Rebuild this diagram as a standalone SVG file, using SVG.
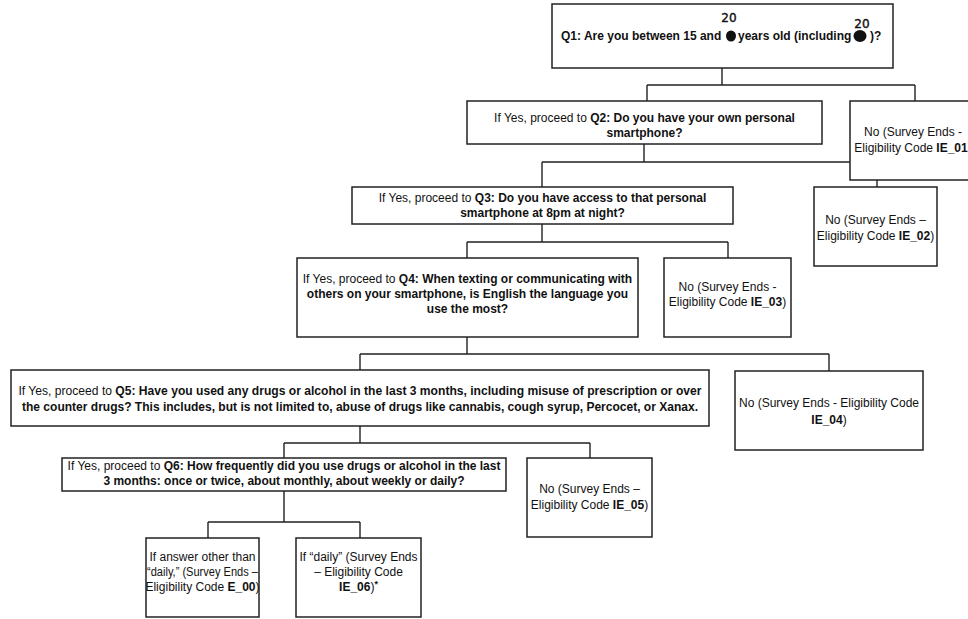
<svg xmlns="http://www.w3.org/2000/svg" width="968" height="619" viewBox="0 0 968 619">
<style>
.box{fill:#fff;stroke:#222;stroke-width:1.5}
.c{fill:none;stroke:#222;stroke-width:1.4}
text{font-family:"Liberation Sans",Arial,sans-serif;font-size:12px;fill:#111;text-anchor:middle}
.b{font-weight:bold}
.s{text-anchor:start}
.hw{font-family:"DejaVu Sans",sans-serif;fill:#111;stroke:#111;stroke-width:0.4;text-anchor:middle}
</style>
<rect width="968" height="619" fill="#fff"/>
<g id="connectors">
<path class="c" d="M722 68V85M647 85H915M647 85V101M915 85V101"/>
<path class="c" d="M644 144V162M542 162H877M542 162V187M877 162V187"/>
<path class="c" d="M542 224V242M467 242H728M467 242V258M728 242V258"/>
<path class="c" d="M467 337V354M360 354H829M360 354V370M829 354V371"/>
<path class="c" d="M360 426V443M284 443H590M284 443V458M590 443V458"/>
<path class="c" d="M284 491V522M208 522H360M208 522V538M360 522V538"/>
</g>
<g id="q1">
<rect class="box" x="552" y="4" width="341" height="64"/>
<text class="b s" x="561" y="40">Q1: Are you between 15 and</text>
<text class="b s" x="738" y="40">years old (including</text>
<text class="b s" x="870" y="40">)?</text>
<ellipse cx="731" cy="36" rx="5" ry="5.5" fill="#111"/>
<ellipse cx="860" cy="36" rx="6.5" ry="6" fill="#111"/>
<text class="hw" x="729" y="22" font-size="18">20</text>
<text class="hw" x="862" y="28" font-size="22">20</text>
</g>
<g id="q2">
<rect class="box" x="467" y="101" width="355" height="43"/>
<text x="644.5" y="122">If Yes, proceed to <tspan class="b">Q2: Do you have your own personal</tspan></text>
<text class="b" x="644.5" y="137">smartphone?</text>
</g>
<g id="ie01">
<rect class="box" x="850" y="101" width="126" height="79"/>
<text x="913" y="136">No (Survey Ends -</text>
<text x="913" y="152">Eligibility Code <tspan class="b">IE_01</tspan>)</text>
</g>
<g id="q3">
<rect class="box" x="352" y="187" width="381" height="37"/>
<text x="542.5" y="202">If Yes, proceed to <tspan class="b">Q3: Do you have access to that personal</tspan></text>
<text class="b" x="542.5" y="217">smartphone at 8pm at night?</text>
</g>
<g id="ie02">
<rect class="box" x="814" y="187" width="123" height="79"/>
<text x="875.5" y="224">No (Survey Ends –</text>
<text x="875.5" y="240">Eligibility Code <tspan class="b">IE_02</tspan>)</text>
</g>
<g id="q4">
<rect class="box" x="297" y="258" width="341" height="79"/>
<text x="467.5" y="283">If Yes, proceed to <tspan class="b">Q4: When texting or communicating with</tspan></text>
<text class="b" x="467.5" y="298">others on your smartphone, is English the language you</text>
<text class="b" x="467.5" y="313">use the most?</text>
</g>
<g id="ie03">
<rect class="box" x="664" y="258" width="127" height="79"/>
<text x="727.5" y="291">No (Survey Ends -</text>
<text x="727.5" y="306">Eligibility Code <tspan class="b">IE_03</tspan>)</text>
</g>
<g id="q5">
<rect class="box" x="11" y="370" width="698" height="56"/>
<text x="360" y="395" textLength="683" lengthAdjust="spacingAndGlyphs">If Yes, proceed to <tspan class="b">Q5: Have you used any drugs or alcohol in the last 3 months, including misuse of prescription or over</tspan></text>
<text class="b" x="360" y="411" textLength="676" lengthAdjust="spacingAndGlyphs">the counter drugs? This includes, but is not limited to, abuse of drugs like cannabis, cough syrup, Percocet, or Xanax.</text>
</g>
<g id="ie04">
<rect class="box" x="735" y="371" width="188" height="79"/>
<text x="829" y="407" textLength="180" lengthAdjust="spacingAndGlyphs">No (Survey Ends - Eligibility Code</text>
<text x="829" y="424"><tspan class="b">IE_04</tspan>)</text>
</g>
<g id="q6">
<rect class="box" x="62" y="458" width="444" height="33"/>
<text x="284" y="470">If Yes, proceed to <tspan class="b">Q6: How frequently did you use drugs or alcohol in the last</tspan></text>
<text class="b" x="284" y="485">3 months: once or twice, about monthly, about weekly or daily?</text>
</g>
<g id="ie05">
<rect class="box" x="527" y="458" width="125" height="79"/>
<text x="589.5" y="493">No (Survey Ends –</text>
<text x="589.5" y="509">Eligibility Code <tspan class="b">IE_05</tspan>)</text>
</g>
<g id="e00">
<rect class="box" x="146" y="538" width="113" height="79"/>
<text x="202.5" y="561">If answer other than</text>
<text x="202.5" y="576" textLength="111" lengthAdjust="spacingAndGlyphs">“daily,” (Survey Ends –</text>
<text x="202.5" y="591">Eligibility Code <tspan class="b">E_00</tspan>)</text>
</g>
<g id="ie06">
<rect class="box" x="296" y="538" width="125" height="79"/>
<text x="358.5" y="561">If “daily” (Survey Ends</text>
<text x="358.5" y="576">– Eligibility Code</text>
<text x="358.5" y="591"><tspan class="b">IE_06</tspan>)<tspan class="b" font-size="9" dy="-4">*</tspan></text>
</g>
</svg>
